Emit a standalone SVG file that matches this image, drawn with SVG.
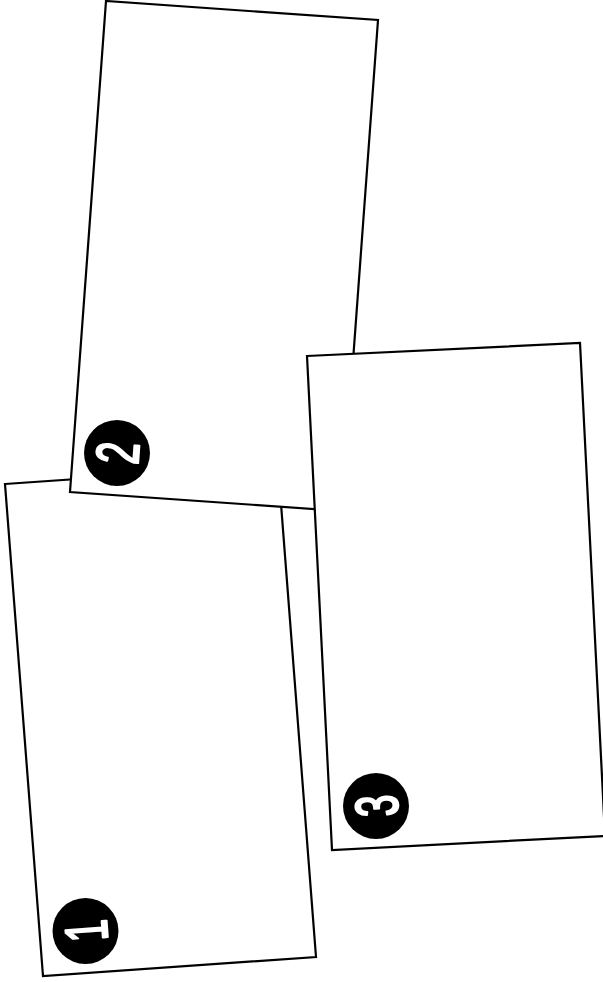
<svg xmlns="http://www.w3.org/2000/svg" width="603" height="982" viewBox="0 0 603 982">
<style>
.card{fill:#fff;stroke:#000;stroke-width:2.2;stroke-linejoin:miter}
.badge{fill:#000}
.num{fill:#fff;font-family:"Liberation Sans",Arial,sans-serif;font-weight:normal;font-size:60px;text-anchor:middle;stroke:#fff;stroke-width:2.4;stroke-linejoin:round}
</style>
<rect width="603" height="982" fill="#fff"/>
<g id="card1">
<polygon class="card" points="5,484 278,465 316,957 43,976"/>
<circle class="badge" cx="85.5" cy="931" r="33"/>
<text class="num" transform="translate(85.5,931) rotate(-94) scale(0.65,1)" y="21.5">1</text>
</g>
<g id="card2">
<polygon class="card" points="106,1 378,20 342,511 70,492"/>
<circle class="badge" cx="117" cy="453" r="33"/>
<text class="num" transform="translate(117,453) rotate(-86) scale(0.65,1)" y="21.5">2</text>
</g>
<g id="card3">
<polygon class="card" points="307,356 580,343 605,836 332,850"/>
<circle class="badge" cx="376" cy="806" r="33"/>
<text class="num" transform="translate(376,806) rotate(-92.7) scale(0.65,1)" y="21.5">3</text>
</g>
<g id="connectors"/>
</svg>
